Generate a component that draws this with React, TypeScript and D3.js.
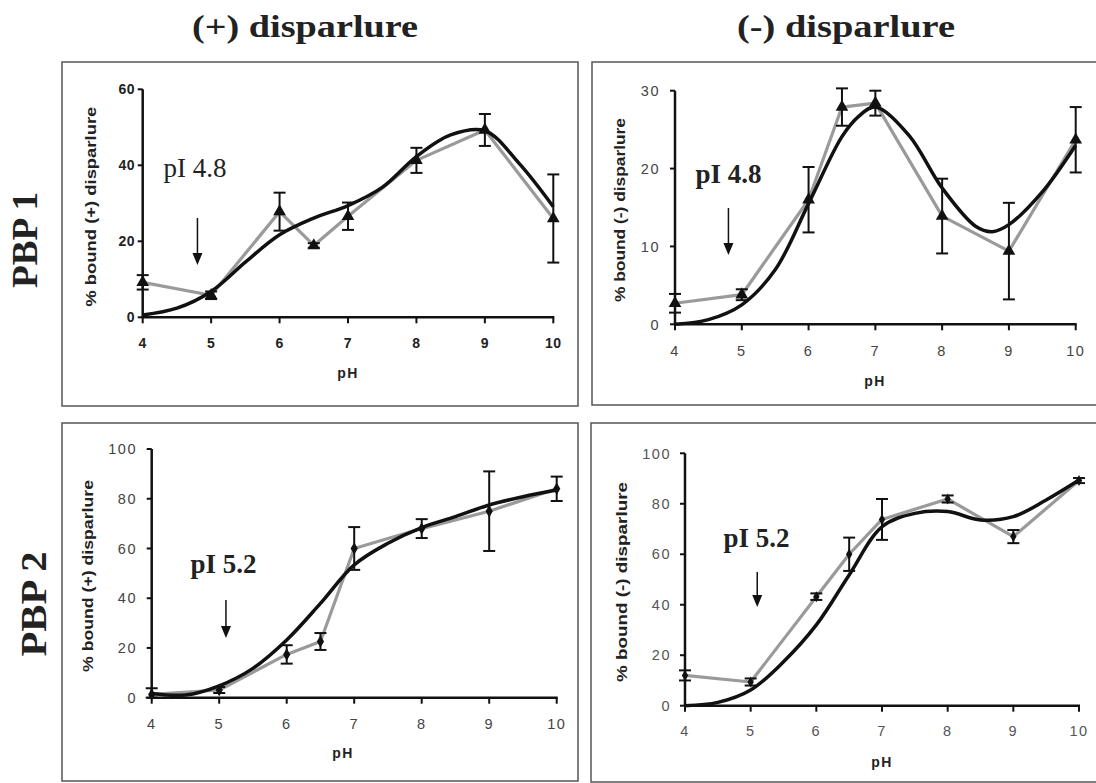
import React from "react";
import * as d3 from "d3";

// ---- data ----
const ph = [4, 5, 6, 6.5, 7, 8, 9, 10];

const pbp1PlusMean = [9.2, 5.8, 27.8, 18.9, 26.6, 41.3, 49.3, 26.0];
const pbp1PlusErr = [1.9, 1.0, 5.0, 0.6, 3.6, 3.3, 4.2, 11.6];
const pbp1PlusFitPh = [4, 4.5, 5, 5.5, 6, 6.5, 7, 7.5, 8, 8.5, 9, 9.5, 10];
const pbp1PlusFit = [0.6, 2.4, 6.8, 14.5, 21.7, 26.1, 29.4, 34.2, 42.3, 48.0, 49.1, 40.5, 29.1];

const pbp1MinusMean = [2.7, 3.8, 16.0, 27.9, 28.4, 13.9, 9.4, 23.7];
const pbp1MinusErr = [1.2, 0.7, 4.2, 2.4, 1.6, 4.8, 6.2, 4.2];
const pbp1MinusFitPh = [4, 4.5, 5, 5.5, 6, 6.5, 6.75, 7, 7.5, 8, 8.5, 8.75, 9, 9.5, 10];
const pbp1MinusFit = [0, 0.6, 2.5, 7.0, 15.5, 24.1, 26.7, 27.9, 24.3, 17.5, 12.6, 11.9, 12.8, 17.0, 23.0];

const pbp2PlusMean = [1.3, 3.1, 17.4, 22.6, 60.0, 68.0, 75.0, 84.0];
const pbp2PlusErr = [2.5, 1.2, 3.7, 3.4, 8.6, 3.8, 16.0, 4.9];
const pbp2PlusFitPh = [4, 4.5, 5, 5.5, 6, 6.5, 7, 7.5, 8, 8.5, 9, 9.5, 10];
const pbp2PlusFit = [1.7, 1.1, 4.8, 11.8, 23.2, 37.9, 53.4, 62.1, 68.4, 72.8, 77.5, 80.8, 83.5];

const pbp2MinusMean = [12.0, 9.4, 43.2, 60.0, 73.8, 81.9, 67.0, 89.2];
const pbp2MinusErr = [2.0, 1.4, 1.3, 6.6, 8.1, 1.4, 2.6, 1.0];
const pbp2MinusFitPh = [4, 4.5, 5, 5.5, 6, 6.5, 7, 7.5, 8, 8.5, 9, 9.5, 10];
const pbp2MinusFit = [0, 1.3, 6.2, 17.4, 32.0, 51.8, 70.9, 76.2, 76.9, 73.6, 74.9, 81.5, 89.4];

const xTicks = [4, 5, 6, 7, 8, 9, 10];
const yTicks1Plus = [0, 20, 40, 60];
const yTicks1Minus = [0, 10, 20, 30];
const yTicks2 = [0, 20, 40, 60, 80, 100];

const columnTitles = ["(+) disparlure", "(-) disparlure"];
const rowTitles = ["PBP 1", "PBP 2"];

const SANS = "'Liberation Sans', Arial, sans-serif";
const SERIF = "'Liberation Serif', 'Times New Roman', serif";

type Panel = {
  frame: [number, number, number, number];
  px: [number, number];
  py: [number, number];
  yMax: number;
  yTicks: number[];
  mean: number[];
  err: number[];
  fitPh: number[];
  fit: number[];
  marker: "tri" | "dia";
  markerSize: number;
  tickBold: boolean;
  tickColor: string;
  tickSize: number;
  tickSpacing: number;
  xTickBase: number;
  yTickRight: number;
  ylabel: string;
  ylabelX: number;
  ylabelY: number;
  ylabelLen: number;
  phX: number;
  phY: number;
  pI: string;
  pIBold: boolean;
  pIX: number;
  pIY: number;
  arrowPh: number;
  arrowTop: number;
  arrowTip: number;
};

const panels: Panel[] = [
  {
    frame: [62, 62, 516, 344],
    px: [142.7, 553.3],
    py: [317.3, 89.3],
    yMax: 60,
    yTicks: yTicks1Plus,
    mean: pbp1PlusMean,
    err: pbp1PlusErr,
    fitPh: pbp1PlusFitPh,
    fit: pbp1PlusFit,
    marker: "tri",
    markerSize: 70,
    tickBold: true,
    tickColor: "#222",
    tickSize: 14,
    tickSpacing: 0.5,
    xTickBase: 348,
    yTickRight: 135,
    ylabel: "% bound (+) disparlure",
    ylabelX: 96,
    ylabelY: 206.7,
    ylabelLen: 200,
    phX: 348,
    phY: 378,
    pI: "pI 4.8",
    pIBold: false,
    pIX: 195,
    pIY: 177,
    arrowPh: 4.8,
    arrowTop: 218,
    arrowTip: 265,
  },
  {
    frame: [592, 62, 520, 343],
    px: [675, 1075.7],
    py: [324.3, 90.7],
    yMax: 30,
    yTicks: yTicks1Minus,
    mean: pbp1MinusMean,
    err: pbp1MinusErr,
    fitPh: pbp1MinusFitPh,
    fit: pbp1MinusFit,
    marker: "tri",
    markerSize: 70,
    tickBold: false,
    tickColor: "#444",
    tickSize: 14.5,
    tickSpacing: 1.5,
    xTickBase: 356,
    yTickRight: 660,
    ylabel: "% bound (-) disparlure",
    ylabelX: 625,
    ylabelY: 210,
    ylabelLen: 184,
    phX: 875,
    phY: 386,
    pI: "pI 4.8",
    pIBold: true,
    pIX: 728.5,
    pIY: 183,
    arrowPh: 4.8,
    arrowTop: 208,
    arrowTip: 255,
  },
  {
    frame: [62, 423, 516, 358],
    px: [151.7, 556.7],
    py: [697.7, 449],
    yMax: 100,
    yTicks: yTicks2,
    mean: pbp2PlusMean,
    err: pbp2PlusErr,
    fitPh: pbp2PlusFitPh,
    fit: pbp2PlusFit,
    marker: "dia",
    markerSize: 45,
    tickBold: false,
    tickColor: "#444",
    tickSize: 14.5,
    tickSpacing: 1.5,
    xTickBase: 729,
    yTickRight: 137,
    ylabel: "% bound (+) disparlure",
    ylabelX: 93,
    ylabelY: 576,
    ylabelLen: 192,
    phX: 343,
    phY: 758,
    pI: "pI 5.2",
    pIBold: true,
    pIX: 223.5,
    pIY: 573,
    arrowPh: 5.1,
    arrowTop: 600,
    arrowTip: 638,
  },
  {
    frame: [591, 423, 520, 359],
    px: [685, 1079],
    py: [705.7, 453.3],
    yMax: 100,
    yTicks: yTicks2,
    mean: pbp2MinusMean,
    err: pbp2MinusErr,
    fitPh: pbp2MinusFitPh,
    fit: pbp2MinusFit,
    marker: "dia",
    markerSize: 35,
    tickBold: false,
    tickColor: "#555",
    tickSize: 14.5,
    tickSpacing: 1.5,
    xTickBase: 736,
    yTickRight: 671,
    ylabel: "% bound (-) disparlure",
    ylabelX: 627,
    ylabelY: 582,
    ylabelLen: 200,
    phX: 882,
    phY: 767,
    pI: "pI 5.2",
    pIBold: true,
    pIX: 756.5,
    pIY: 547,
    arrowPh: 5.1,
    arrowTop: 572,
    arrowTip: 607,
  },
];

function PanelView({ p }: { p: Panel }) {
  const x = d3.scaleLinear().domain([4, 10]).range(p.px);
  const y = d3.scaleLinear().domain([0, p.yMax]).range(p.py);
  const dataPts: [number, number][] = ph.map((v, i) => [v, p.mean[i]]);
  const fitPts: [number, number][] = p.fitPh.map((v, i) => [v, p.fit[i]]);
  const straight = d3
    .line<[number, number]>()
    .x((d) => x(d[0]))
    .y((d) => y(d[1]));
  const smooth = d3
    .line<[number, number]>()
    .x((d) => x(d[0]))
    .y((d) => y(d[1]))
    .curve(d3.curveCatmullRom.alpha(0.5));
  const sym = d3
    .symbol()
    .type(p.marker === "tri" ? d3.symbolTriangle : d3.symbolDiamond)
    .size(p.markerSize);
  const [fx, fy, fw, fh] = p.frame;
  const ax = x(p.arrowPh);
  return (
    <g>
      <rect x={fx} y={fy} width={fw} height={fh} fill="none" stroke="#555" strokeWidth={1.5} />
      {/* axes */}
      <line x1={x(4)} x2={x(4)} y1={y(0)} y2={y(p.yMax)} stroke="#111" strokeWidth={2.5} />
      <line x1={x(4) - 1} x2={x(10) + 1} y1={y(0)} y2={y(0)} stroke="#111" strokeWidth={2.5} />
      {p.yTicks.map((t) => (
        <g key={"y" + t}>
          <line x1={x(4) - 5} x2={x(4)} y1={y(t)} y2={y(t)} stroke="#111" strokeWidth={2} />
          <text
            x={p.yTickRight}
            y={y(t)}
            dy="0.36em"
            textAnchor="end"
            fontFamily={SANS}
            fontSize={p.tickSize}
            fontWeight={p.tickBold ? "bold" : "normal"}
            fill={p.tickColor}
            letterSpacing={p.tickSpacing}
          >
            {t}
          </text>
        </g>
      ))}
      {xTicks.map((t) => (
        <g key={"x" + t}>
          <line x1={x(t)} x2={x(t)} y1={y(0)} y2={y(0) + 6} stroke="#111" strokeWidth={2} />
          <text
            x={x(t)}
            y={p.xTickBase}
            textAnchor="middle"
            fontFamily={SANS}
            fontSize={p.tickSize}
            fontWeight={p.tickBold ? "bold" : "normal"}
            fill={p.tickColor}
            letterSpacing={p.tickSpacing}
          >
            {t}
          </text>
        </g>
      ))}
      <text
        x={p.phX}
        y={p.phY}
        textAnchor="middle"
        fontFamily={SANS}
        fontSize={14}
        fontWeight="bold"
        fill="#222"
        letterSpacing={1.5}
      >
        pH
      </text>
      <text
        transform={`translate(${p.ylabelX},${p.ylabelY}) rotate(-90)`}
        textAnchor="middle"
        fontFamily={SANS}
        fontSize={14}
        fontWeight="bold"
        fill="#222"
        textLength={p.ylabelLen}
        lengthAdjust="spacingAndGlyphs"
      >
        {p.ylabel}
      </text>
      {/* data line */}
      <path d={straight(dataPts) || ""} fill="none" stroke="#9a9a9a" strokeWidth={3.2} strokeLinejoin="round" />
      {/* fitted curve */}
      <path d={smooth(fitPts) || ""} fill="none" stroke="#111" strokeWidth={3.5} strokeLinejoin="round" />
      {/* error bars */}
      {ph.map((v, i) => {
        const cx = x(v);
        const t = y(p.mean[i] + p.err[i]);
        const b = y(Math.max(0, p.mean[i] - p.err[i]));
        return (
          <g key={"e" + i} stroke="#111" strokeWidth={2}>
            <line x1={cx} x2={cx} y1={t} y2={b} />
            <line x1={cx - 6} x2={cx + 6} y1={t} y2={t} />
            <line x1={cx - 6} x2={cx + 6} y1={b} y2={b} />
          </g>
        );
      })}
      {ph.map((v, i) => (
        <path key={"m" + i} d={sym() || ""} transform={`translate(${x(v)},${y(p.mean[i])})`} fill="#111" />
      ))}
      {/* pI annotation */}
      <text
        x={p.pIX}
        y={p.pIY}
        textAnchor="middle"
        fontFamily={SERIF}
        fontSize={27}
        fontWeight={p.pIBold ? "bold" : "normal"}
        fill="#222"
      >
        {p.pI}
      </text>
      <line x1={ax} x2={ax} y1={p.arrowTop} y2={p.arrowTip - 10} stroke="#111" strokeWidth={1.5} />
      <path
        d={`M${ax - 5},${p.arrowTip - 12} L${ax + 5},${p.arrowTip - 12} L${ax},${p.arrowTip} Z`}
        fill="#111"
      />
    </g>
  );
}

export default function App() {
  return (
    <svg
      width={1096}
      height={783}
      viewBox="0 0 1096 783"
      style={{ position: "absolute", left: 0, top: 0, background: "#fff" }}
    >
      <rect x={0} y={0} width={1096} height={783} fill="#fff" />
      <text x={305} y={37} textAnchor="middle" fontFamily={SERIF} fontSize={32} fontWeight="bold" fill="#222" textLength={226} lengthAdjust="spacingAndGlyphs">
        {columnTitles[0]}
      </text>
      <text x={846} y={37} textAnchor="middle" fontFamily={SERIF} fontSize={32} fontWeight="bold" fill="#222" textLength={218} lengthAdjust="spacingAndGlyphs">
        {columnTitles[1]}
      </text>
      <text transform="translate(37,240) rotate(-90)" textAnchor="middle" fontFamily={SERIF} fontSize={36} fontWeight="bold" fill="#222" textLength={96} lengthAdjust="spacingAndGlyphs">
        {rowTitles[0]}
      </text>
      <text transform="translate(46,604) rotate(-90)" textAnchor="middle" fontFamily={SERIF} fontSize={36} fontWeight="bold" fill="#222" textLength={105} lengthAdjust="spacingAndGlyphs">
        {rowTitles[1]}
      </text>
      {panels.map((p, i) => (
        <PanelView key={i} p={p} />
      ))}
    </svg>
  );
}
